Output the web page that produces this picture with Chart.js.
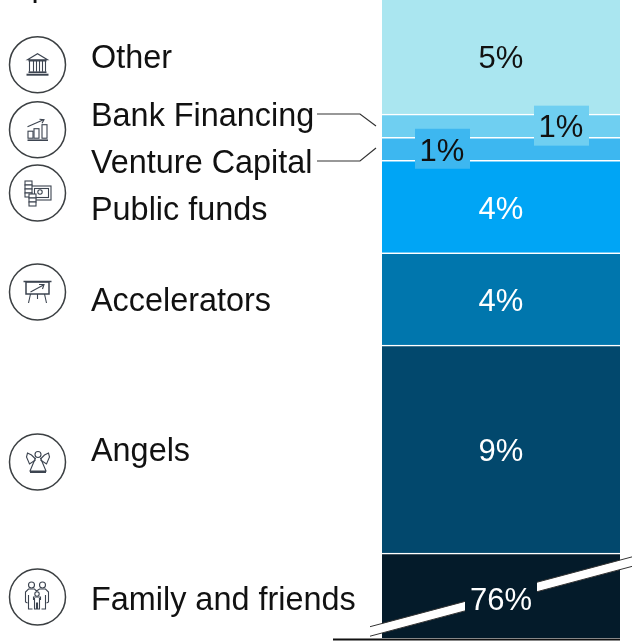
<!DOCTYPE html>
<html>
<head>
<meta charset="utf-8">
<style>html,body{margin:0;padding:0;background:#fff;overflow:hidden}#w{position:relative;width:641px;height:641px}</style>
<script src="https://cdn.jsdelivr.net/npm/chart.js@4/dist/chart.umd.min.js"></script>
</head>
<body>
<div id="w"><canvas id="c" width="641" height="641"></canvas></div>
<script>
// bottom-to-top order of the stack
const categories = ["Family and friends","Angels","Accelerators","Public funds","Venture Capital","Bank Financing","Other"];
const shares = [76,9,4,4,1,1,5];
const colors = ["#041B2A","#02486D","#0076AD","#00A5F5","#3DB7F0","#6FCFF1","#AAE6F0"];
const valueColors = ["#fff","#fff","#fff","#fff","#111","#111","#111"];
const labelDy = [6,3.5,3.5,5,15,-8.5,3];
const valueDy = [6,3.5,3.5,3.5,4,3,3];
const valueDx = [0,0,0,0,-59,60,0];
const iconY = [597,462,292,193,129.7,null,64.7];
const iconNames = ["family","angel","board","money","growth",null,"bank"];

class BrokenScale extends Chart.LinearScale {
  static id = 'broken';
  static defaults = {};
  visible(v){ const b=76, h=3.68; return v<=b ? v*h/b : h+(v-b); }
  getPixelForValue(v){ return this.getPixelForDecimal(this.visible(v)/27.62); }
}
Chart.register(BrokenScale);

const F='"Liberation Sans", Arial, sans-serif';
function path(ctx,pts,close){ctx.beginPath();pts.forEach((p,i)=>i?ctx.lineTo(p[0],p[1]):ctx.moveTo(p[0],p[1]));if(close)ctx.closePath();ctx.stroke();}
function circ(ctx,x,y,r){ctx.beginPath();ctx.arc(x,y,r,0,Math.PI*2);ctx.stroke();}
const icons={
 bank(c){path(c,[[-10,-5],[0,-11],[10,-5]],true);for(const x of[-8,-4,-1,2,5,8])path(c,[[x,-4],[x,7]]);c.lineWidth=1.6;path(c,[[-9,-4],[9,-4]]);path(c,[[-9,7.5],[9,7.5]]);c.lineWidth=2;path(c,[[-11,10],[11,10]]);},
 growth(c){c.strokeRect(-9.5,1.5,5,7);c.strokeRect(-3.5,-1,5,9.5);c.strokeRect(4.5,-5,5,13.5);c.lineWidth=1.6;path(c,[[-10,10.5],[10.5,10.5]]);c.lineWidth=1.1;path(c,[[-10,-3],[6,-10]]);path(c,[[2,-10.5],[6.5,-10],[4.5,-6.5]]);},
 money(c){c.strokeRect(-6,-7,19.5,14);c.strokeRect(-3,-4.5,14,9);circ(c,2.5,-1,2.2);
   c.fillStyle='#fff';for(const y of[-12,-8,-4,0])  {c.fillRect(-12.5,y,7,4);c.strokeRect(-12.5,y,7,4);}
   for(const y of[1,5,9]){c.fillRect(-8.5,y,7,4);c.strokeRect(-8.5,y,7,4);}},
 board(c){c.lineWidth=1.5;c.strokeRect(-11.5,-10,23,12);path(c,[[-14,-10.5],[14,-10.5]]);c.lineWidth=1.1;path(c,[[-7,0],[6,-7]]);path(c,[[1.5,-7.5],[6.5,-7.5],[5,-3]]);path(c,[[-7,2],[-9,11]]);path(c,[[7,2],[9,11]]);path(c,[[0,2],[0,7]]);},
 angel(c){circ(c,0.5,-7.5,3);c.beginPath();c.moveTo(-2,-4);c.lineTo(-7.5,9);c.lineTo(8.5,9);c.lineTo(3,-4);c.stroke();
   path(c,[[-2,-2],[-8,2],[-11,-5],[-10,-9],[-6,-7],[-2,-3]]);path(c,[[3,-2],[9,2],[12,-5],[11,-9],[7,-7],[3,-3]]);c.lineWidth=2;path(c,[[-7.5,10],[8.5,10]]);},
 family(c){circ(c,-6,-12,3);circ(c,5,-12,3);circ(c,-0.5,-3,2.2);
   path(c,[[-10,6],[-12,5],[-12,-5],[-9,-8],[-3,-8],[-1,-6],[2,-8],[8,-8],[11,-5],[11,5],[9,6]]);
   path(c,[[-9,-2],[-9,12],[-5,12]]);path(c,[[8,-2],[8,12],[4,12]]);
   path(c,[[-4,3],[-4,0],[3,0],[3,3]]);path(c,[[-3,1],[-3,12],[-1,12],[-1,6],[0,6],[0,12],[2,12],[2,1]]);}
};

const overlay={id:'overlay',afterDraw(chart){
  const c=chart.ctx, y=chart.scales.y, xc=chart.scales.x.getPixelForValue(0);
  c.save();
  c.textBaseline='alphabetic';
  // break band through the compressed 76% segment
  const band=(x0,x1)=>{const t=x=>626.7-(x-370)*0.2664;const h=9.5;
    c.fillStyle='#fff';c.beginPath();c.moveTo(x0,t(x0));c.lineTo(x1,t(x1));c.lineTo(x1,t(x1)+h);c.lineTo(x0,t(x0)+h);c.closePath();c.fill();
    c.strokeStyle='#333';c.lineWidth=1;path(c,[[x0,t(x0)],[x1,t(x1)]]);path(c,[[x0,t(x0)+h],[x1,t(x1)+h]]);};
  band(370,465);band(537,632);
  // baseline
  c.strokeStyle='#111';c.lineWidth=2;path(c,[[333,639.5],[620,639.5]]);
  // category labels, icons, values
  let start=0;
  shares.forEach((v,i)=>{
    const mid=(y.getPixelForValue(start)+y.getPixelForValue(start+v))/2;start+=v;
    c.font='32.4px '+F;c.fillStyle='#111';c.textAlign='left';c.textBaseline='middle';
    c.fillText(categories[i],91,mid+labelDy[i]);
    if(v===1){
      const bx=xc+valueDx[i];
      c.fillStyle=colors[i];c.fillRect(bx-27,mid-20,55,40);
    }
    c.font='31px '+F;c.textAlign='center';c.fillStyle=valueColors[i];
    c.fillText(v+'%',xc+valueDx[i],mid+valueDy[i]);
    if(iconNames[i]){
      const cx=37.5,cy=iconY[i];
      c.strokeStyle='#3c4043';c.lineWidth=1.5;circ(c,cx,cy,28);
      c.save();c.translate(cx,cy);c.strokeStyle='#3c4450';c.lineWidth=1.1;icons[iconNames[i]](c);c.restore();
    }
  });
  // leader lines
  c.strokeStyle='#333';c.lineWidth=1.2;
  path(c,[[317,114],[360,114],[376,126]]);
  path(c,[[317,161],[360,161],[376,148]]);
  // cropped title fragment
  c.font='32px '+F;c.textAlign='left';c.textBaseline='alphabetic';c.fillStyle='#111';
  c.fillText('p',31.5,-4.5);
  c.restore();
}};

new Chart(document.getElementById('c'),{
  type:'bar',
  data:{labels:['Sources'],datasets:shares.map((v,i)=>({
    label:categories[i],data:[v],backgroundColor:colors[i],
    borderColor:'#fff',borderWidth:{top:1.5,bottom:0,left:0,right:0},borderSkipped:false,
    barPercentage:1,categoryPercentage:1}))},
  options:{responsive:false,animation:false,
    layout:{padding:{left:382,right:21,top:0,bottom:3}},
    plugins:{legend:{display:false},tooltip:{enabled:false},title:{display:false}},
    scales:{x:{stacked:true,display:false},y:{type:'broken',stacked:true,display:false,min:0,max:100}}},
  plugins:[overlay]
});
</script>
</body>
</html>
